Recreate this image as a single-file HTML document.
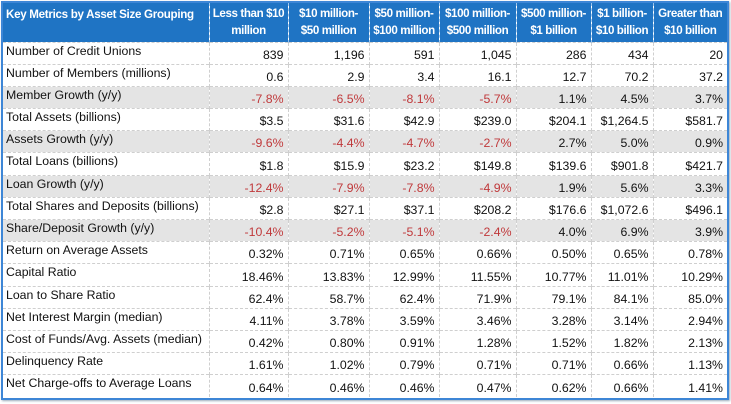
<!DOCTYPE html>
<html><head><meta charset="utf-8"><style>
body{margin:0;background:#fff;width:731px;height:404px;overflow:hidden;font-family:"Liberation Sans",Arial,sans-serif;}
#wrap{position:absolute;left:1px;top:1px;width:724px;height:395px;border:2px solid #3d86d6;box-shadow:1px 1px 2px #9ab;overflow:hidden;}
table{border-collapse:collapse;table-layout:fixed;width:724px;font-size:12.3px;color:#111;}
th{background:#1f74c4;color:#fff;font-weight:bold;height:39px;box-sizing:border-box;padding:0 1px;line-height:17px;text-align:center;border-left:1px dashed #9cc3ea;white-space:nowrap;overflow:hidden;font-size:11.6px;letter-spacing:-0.4px;}
th:first-child{text-align:left;vertical-align:top;padding-top:3px;padding-left:3px;border-left:none;letter-spacing:-0.3px;}
td{height:22.2px;box-sizing:border-box;padding:0 4px 1px 2px;border-top:1px dashed #cfcfcf;border-left:1px dashed #cfcfcf;text-align:right;white-space:nowrap;overflow:hidden;vertical-align:bottom;line-height:15px;}
td:first-child{text-align:left;border-left:none;vertical-align:top;padding:1px 0 0 3px;}
tr.g td{background:#e4e4e4;}
.n{color:#c0393b;}
</style></head><body>
<div id="wrap">
<table>
<colgroup><col style="width:206px"><col style="width:79px"><col style="width:81px"><col style="width:70px"><col style="width:77px"><col style="width:75px"><col style="width:62px"><col style="width:74px"></colgroup>
<tr>
<th>Key Metrics by Asset Size Grouping</th>
<th>Less than $10<br>million</th>
<th>$10 million-<br>$50 million</th>
<th>$50 million-<br>$100 million</th>
<th>$100 million-<br>$500 million</th>
<th>$500 million-<br>$1 billion</th>
<th>$1 billion-<br>$10 billion</th>
<th>Greater than<br>$10 billion</th>
</tr>
<tr><td>Number of Credit Unions</td><td>839</td><td>1,196</td><td>591</td><td>1,045</td><td>286</td><td>434</td><td>20</td></tr>
<tr><td>Number of Members (millions)</td><td>0.6</td><td>2.9</td><td>3.4</td><td>16.1</td><td>12.7</td><td>70.2</td><td>37.2</td></tr>
<tr class="g"><td>Member Growth (y/y)</td><td class="n">-7.8%</td><td class="n">-6.5%</td><td class="n">-8.1%</td><td class="n">-5.7%</td><td>1.1%</td><td>4.5%</td><td>3.7%</td></tr>
<tr><td>Total Assets (billions)</td><td>$3.5</td><td>$31.6</td><td>$42.9</td><td>$239.0</td><td>$204.1</td><td>$1,264.5</td><td>$581.7</td></tr>
<tr class="g"><td>Assets Growth (y/y)</td><td class="n">-9.6%</td><td class="n">-4.4%</td><td class="n">-4.7%</td><td class="n">-2.7%</td><td>2.7%</td><td>5.0%</td><td>0.9%</td></tr>
<tr><td>Total Loans (billions)</td><td>$1.8</td><td>$15.9</td><td>$23.2</td><td>$149.8</td><td>$139.6</td><td>$901.8</td><td>$421.7</td></tr>
<tr class="g"><td>Loan Growth (y/y)</td><td class="n">-12.4%</td><td class="n">-7.9%</td><td class="n">-7.8%</td><td class="n">-4.9%</td><td>1.9%</td><td>5.6%</td><td>3.3%</td></tr>
<tr><td>Total Shares and Deposits (billions)</td><td>$2.8</td><td>$27.1</td><td>$37.1</td><td>$208.2</td><td>$176.6</td><td>$1,072.6</td><td>$496.1</td></tr>
<tr class="g"><td>Share/Deposit Growth (y/y)</td><td class="n">-10.4%</td><td class="n">-5.2%</td><td class="n">-5.1%</td><td class="n">-2.4%</td><td>4.0%</td><td>6.9%</td><td>3.9%</td></tr>
<tr><td>Return on Average Assets</td><td>0.32%</td><td>0.71%</td><td>0.65%</td><td>0.66%</td><td>0.50%</td><td>0.65%</td><td>0.78%</td></tr>
<tr><td>Capital Ratio</td><td>18.46%</td><td>13.83%</td><td>12.99%</td><td>11.55%</td><td>10.77%</td><td>11.01%</td><td>10.29%</td></tr>
<tr><td>Loan to Share Ratio</td><td>62.4%</td><td>58.7%</td><td>62.4%</td><td>71.9%</td><td>79.1%</td><td>84.1%</td><td>85.0%</td></tr>
<tr><td>Net Interest Margin (median)</td><td>4.11%</td><td>3.78%</td><td>3.59%</td><td>3.46%</td><td>3.28%</td><td>3.14%</td><td>2.94%</td></tr>
<tr><td>Cost of Funds/Avg. Assets (median)</td><td>0.42%</td><td>0.80%</td><td>0.91%</td><td>1.28%</td><td>1.52%</td><td>1.82%</td><td>2.13%</td></tr>
<tr><td>Delinquency Rate</td><td>1.61%</td><td>1.02%</td><td>0.79%</td><td>0.71%</td><td>0.71%</td><td>0.66%</td><td>1.13%</td></tr>
<tr><td>Net Charge-offs to Average Loans</td><td>0.64%</td><td>0.46%</td><td>0.46%</td><td>0.47%</td><td>0.62%</td><td>0.66%</td><td>1.41%</td></tr>
</table>
</div>
</body></html>
